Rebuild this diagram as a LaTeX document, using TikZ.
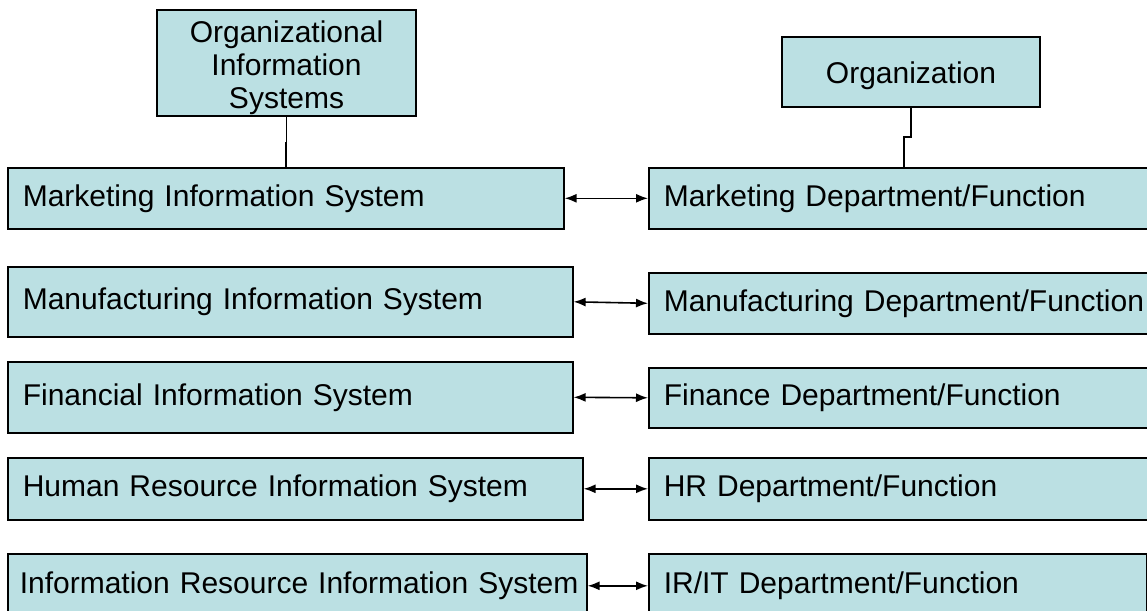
\documentclass[tikz,border=0pt]{standalone}
\usepackage{fontspec}
\setmainfont{Liberation Sans}
\usetikzlibrary{arrows.meta}
\definecolor{boxfill}{RGB}{187,224,227}
\begin{document}
\begin{tikzpicture}[
		x=0.5pt, y=-0.5pt,
		every node/.style={font=\fontsize{15pt}{16.5pt}\selectfont},
		box/.style={draw, line width=0.8pt, fill=boxfill, anchor=north west, inner xsep=7.5pt, inner ysep=0pt, align=left},
		topbox/.style={draw, line width=0.8pt, fill=boxfill, inner ysep=0pt, align=center},
		stem/.style={line width=0.8pt},
		link/.style={line width=0.8pt, {Latex[length=6pt,width=4.5pt]}-{Latex[length=6pt,width=4.5pt]}}
	]
	\clip (0,0) rectangle (1147,611);
	\node[topbox, minimum width=129.5pt, minimum height=53pt] (ois) at (286.5,63) {\rule{0pt}{16pt}Organizational\\Information\\Systems};
	\node[topbox, minimum width=129pt, minimum height=35pt] (org) at (911,72) {\rule{0pt}{15pt}Organization};
	% information systems
	\node[box, text width=263pt, minimum height=30.5pt] (mis) at (7,167) {Marketing Information System};
	\node[box, text width=267.5pt, minimum height=35pt] (mfis) at (7,266) {Manufacturing Information System};
	\node[box, text width=267.5pt, minimum height=35.5pt] (fis) at (7,361) {Financial Information System};
	\node[box, text width=272.5pt, minimum height=31pt] (hris) at (7,457) {Human Resource Information System};
	\node[box, text width=277.5pt, inner xsep=6pt, minimum height=32pt] (iris) at (7,553) {\mbox{Information Resource Information System}};
	% departments
	\node[box, text width=240pt, minimum height=30.5pt] (mkt) at (648,167) {Marketing Department/Function};
	\node[box, text width=240pt, minimum height=30.5pt] (mfg) at (648,272) {\mbox{Manufacturing Department/Function}};
	\node[box, text width=240pt, minimum height=30pt] (fin) at (648,367) {Finance Department/Function};
	\node[box, text width=240pt, minimum height=31pt] (hr) at (648,457) {HR Department/Function};
	\node[box, text width=234pt, minimum height=32pt] (it) at (648,553) {IR/IT Department/Function};
	\draw[stem] (ois.south) -- ++(0,26) -| (mis.north);
	\draw[stem] (org.south) -- ++(0,29) -| (mkt.north);
	\draw[link] (mis.east) -- (mkt.west);
	\draw[link] (mfis.east) -- (mfg.west);
	\draw[link] (fis.east) -- (fin.west);
	\draw[link] (hris.east) -- (hr.west);
	\draw[link] (iris.east) -- (it.west);
\end{tikzpicture}
\end{document}
